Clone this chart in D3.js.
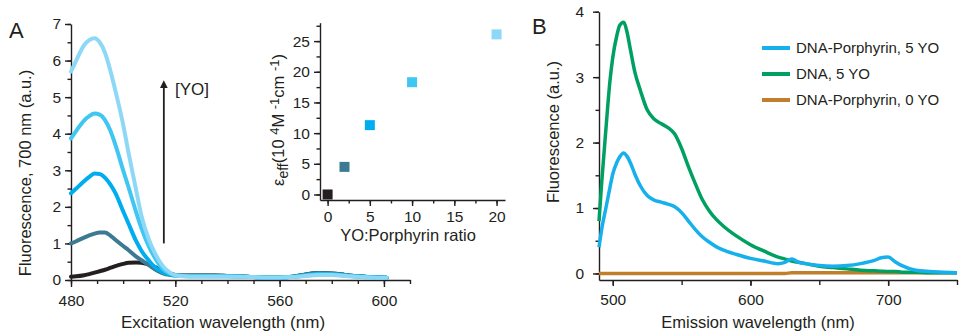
<!DOCTYPE html>
<html>
<head>
<meta charset="utf-8">
<script src="https://cdn.jsdelivr.net/npm/d3@7"></script>
<style>
  html, body { margin: 0; padding: 0; background: #fff; }
  svg { display: block; font-family: "Liberation Sans", Arial, Helvetica, sans-serif; }
  .axis path, .axis line { stroke: #231f20; stroke-width: 1.4; }
  .axis text { fill: #231f20; font-size: 15.5px; }
  .lbl { fill: #231f20; font-size: 16.5px; }
  .leg { fill: #231f20; font-size: 15px; }
</style>
</head>
<body>
<svg id="chart" width="960" height="332"></svg>
<script>
// ---- Panel A: excitation spectra at increasing YO loading ----
const exWavelength = [480, 482, 485, 487, 489, 491, 493, 495, 497, 500, 502, 505, 507, 510, 512, 515, 518, 520, 523, 526,
                      530, 535, 540, 545, 550, 555, 560, 565, 570, 575, 580, 585, 590, 595, 601];
const exYO0  = [0.09, 0.10, 0.13, 0.16, 0.20, 0.24, 0.28, 0.33, 0.38, 0.44, 0.47, 0.48, 0.47, 0.42, 0.36, 0.25, 0.17, 0.14, 0.12, 0.12,
                0.12, 0.12, 0.11, 0.10, 0.08, 0.07, 0.07, 0.09, 0.15, 0.19, 0.18, 0.14, 0.10, 0.08, 0.06];
const exYO2  = [1.00, 1.06, 1.16, 1.22, 1.27, 1.30, 1.30, 1.22, 1.10, 0.93, 0.82, 0.64, 0.54, 0.40, 0.30, 0.19, 0.14, 0.13, 0.12, 0.12,
                0.12, 0.12, 0.11, 0.10, 0.08, 0.07, 0.07, 0.09, 0.15, 0.19, 0.18, 0.14, 0.10, 0.08, 0.06];
const exYO5  = [2.37, 2.50, 2.70, 2.82, 2.91, 2.90, 2.80, 2.62, 2.38, 1.88, 1.55, 1.06, 0.80, 0.52, 0.36, 0.22, 0.14, 0.12, 0.11, 0.11,
                0.11, 0.11, 0.11, 0.10, 0.08, 0.07, 0.07, 0.09, 0.13, 0.17, 0.16, 0.13, 0.10, 0.08, 0.06];
const exYO10 = [3.87, 4.08, 4.36, 4.48, 4.55, 4.52, 4.38, 4.10, 3.70, 3.00, 2.55, 1.85, 1.42, 0.90, 0.63, 0.32, 0.17, 0.13, 0.11, 0.10,
                0.10, 0.10, 0.10, 0.09, 0.08, 0.07, 0.07, 0.08, 0.12, 0.15, 0.15, 0.12, 0.09, 0.07, 0.06];
const exYO20 = [5.70, 6.00, 6.42, 6.56, 6.61, 6.50, 6.22, 5.75, 5.18, 4.25, 3.50, 2.45, 1.76, 1.08, 0.76, 0.40, 0.20, 0.13, 0.10, 0.09,
                0.09, 0.09, 0.09, 0.09, 0.08, 0.07, 0.07, 0.08, 0.11, 0.14, 0.14, 0.11, 0.09, 0.07, 0.06];
const exSeriesColors = ["#231f20", "#3b7a92", "#00aeef", "#3fc6f1", "#8dd8f6"];

// Inset: effective extinction vs. YO:Porphyrin ratio
const ratio   = [0, 2, 5, 10, 20];
const epsEff  = [0, 4.5, 11.3, 18.3, 26.1];

// ---- Panel B: emission spectra ----
const emWavelength = [490, 492, 495, 498, 500, 503, 505, 508, 510, 513, 516, 520, 525, 530, 535, 540, 545, 550, 555, 560,
                      565, 570, 575, 580, 590, 600, 610, 620, 625, 630, 635, 640, 650, 660, 670, 680, 690, 695, 700, 705,
                      710, 720, 730, 740, 750];
const emDnaPorph5 = [0.40, 0.68, 1.00, 1.32, 1.52, 1.70, 1.78, 1.84, 1.80, 1.68, 1.52, 1.34, 1.19, 1.12, 1.09, 1.06, 1.02, 0.93, 0.80, 0.67,
                     0.56, 0.48, 0.41, 0.36, 0.29, 0.23, 0.19, 0.15, 0.17, 0.22, 0.17, 0.15, 0.12, 0.11, 0.12, 0.15, 0.20, 0.24, 0.25, 0.18,
                     0.12, 0.05, 0.03, 0.02, 0.01];
const emDna5      = [0.80, 1.40, 2.20, 2.95, 3.30, 3.64, 3.79, 3.84, 3.72, 3.40, 3.08, 2.80, 2.50, 2.36, 2.29, 2.23, 2.13, 1.91, 1.63, 1.37,
                     1.13, 0.96, 0.83, 0.73, 0.57, 0.44, 0.34, 0.25, 0.22, 0.19, 0.17, 0.15, 0.11, 0.09, 0.07, 0.05, 0.04, 0.035, 0.03, 0.03,
                     0.02, 0.02, 0.01, 0.01, 0.01];
const emDnaPorph0 = [0.00, 0.00, 0.00, 0.00, 0.00, 0.00, 0.00, 0.00, 0.00, 0.00, 0.00, 0.00, 0.00, 0.00, 0.00, 0.00, 0.00, 0.00, 0.00, 0.00,
                     0.00, 0.00, 0.00, 0.00, 0.00, 0.00, 0.00, 0.00, 0.00, 0.01, 0.01, 0.01, 0.01, 0.01, 0.01, 0.01, 0.01, 0.01, 0.01, 0.01,
                     0.01, 0.01, 0.01, 0.01, 0.01];
const emLabels = ["DNA-Porphyrin, 5 YO", "DNA, 5 YO", "DNA-Porphyrin, 0 YO"];
const emColors = ["#16b0ec", "#00a062", "#c17f2c"];

// Tick values
const exXTicks = [480, 520, 560, 600];
const exYTicks = [0, 1, 2, 3, 4, 5, 6, 7];
const insetXTicks = [0, 5, 10, 15, 20];
const insetYTicks = [0, 5, 10, 15, 20, 25];
const emXTicks = [500, 600, 700];
const emYTicks = [0, 1, 2, 3, 4];

const svg = d3.select("#chart");
const ink = "#231f20";
const intFmt = d3.format("d");

function styleAxis(g) {
  g.attr("class", "axis");
  g.select(".domain").attr("stroke", ink);
  return g;
}
function minorAxis(g) {
  g.attr("class", "axis");
  g.select(".domain").remove();
  g.selectAll("text").remove();
  return g;
}

// ================= Panel A =================
const xA = d3.scaleLinear().domain([480, 610]).range([71, 410]);
const yA = d3.scaleLinear().domain([0, 7]).range([280, 24]);

svg.append("g").attr("transform", `translate(0,${yA(0)})`)
  .call(d3.axisBottom(xA).tickValues(d3.range(480, 611, 10)).tickSize(4).tickFormat(""))
  .call(minorAxis);
svg.append("g").attr("transform", `translate(0,${yA(0)})`)
  .call(d3.axisBottom(xA).tickValues(exXTicks).tickSize(7).tickSizeOuter(0).tickPadding(8).tickFormat(intFmt))
  .call(styleAxis);
svg.append("g").attr("transform", `translate(${xA(480)},0)`)
  .call(d3.axisLeft(yA).tickValues(d3.range(0, 7.01, 0.5)).tickSize(3.5).tickFormat(""))
  .call(minorAxis);
svg.append("g").attr("transform", `translate(${xA(480)},0)`)
  .call(d3.axisLeft(yA).tickValues(exYTicks).tickSize(6).tickSizeOuter(0).tickPadding(4).tickFormat(intFmt))
  .call(styleAxis);

const lineA = d3.line()
  .x((d, i) => xA(exWavelength[i]))
  .y(d => yA(d))
  .curve(d3.curveMonotoneX);

[exYO0, exYO2, exYO5, exYO10, exYO20].forEach((s, k) => {
  svg.append("path").datum(s)
    .attr("d", lineA)
    .attr("fill", "none")
    .attr("stroke", exSeriesColors[k])
    .attr("stroke-width", 4)
    .attr("stroke-linejoin", "round")
    .attr("stroke-linecap", "round");
});

// [YO] direction arrow
const defs = svg.append("defs");
defs.append("marker").attr("id", "arrowhead")
  .attr("viewBox", "0 0 10 10").attr("refX", 5).attr("refY", 5)
  .attr("markerWidth", 4.5).attr("markerHeight", 5.5).attr("orient", "auto")
  .append("path").attr("d", "M0,0 L10,5 L0,10 Z").attr("fill", ink);
svg.append("line")
  .attr("x1", xA(515.6)).attr("x2", xA(515.6))
  .attr("y1", yA(1.0)).attr("y2", yA(5.35))
  .attr("stroke", ink).attr("stroke-width", 1.8)
  .attr("marker-end", "url(#arrowhead)");
svg.append("text").attr("class", "lbl")
  .attr("x", 175).attr("y", 95).style("font-size", "17px").text("[YO]");

svg.append("text").attr("class", "lbl")
  .attr("x", 223).attr("y", 328).attr("text-anchor", "middle")
  .style("font-size", "17px")
  .text("Excitation wavelength (nm)");
svg.append("text").attr("class", "lbl")
  .attr("transform", `translate(31,173) rotate(-90)`)
  .attr("text-anchor", "middle")
  .text("Fluorescence, 700 nm (a.u.)");
svg.append("text").attr("class", "lbl")
  .attr("x", 9).attr("y", 38).style("font-size", "22px").text("A");

// ---- Inset ----
const xI = d3.scaleLinear().domain([-0.9, 21]).range([320, 505]);
const yI = d3.scaleLinear().domain([-0.9, 28]).range([200, 22.7]);

svg.append("g").attr("transform", `translate(0,200)`)
  .call(d3.axisBottom(xI).tickValues(d3.range(0, 21, 2.5)).tickSize(3.5).tickFormat(""))
  .call(minorAxis);
svg.append("g").attr("transform", `translate(0,200)`)
  .call(d3.axisBottom(xI).tickValues(insetXTicks).tickSize(6).tickSizeOuter(0).tickPadding(5).tickFormat(intFmt))
  .call(styleAxis);
svg.append("g").attr("transform", `translate(320,0)`)
  .call(d3.axisLeft(yI).tickValues(d3.range(0, 27.6, 2.5)).tickSize(3.5).tickFormat(""))
  .call(minorAxis);
svg.append("g").attr("transform", `translate(320,0)`)
  .call(d3.axisLeft(yI).tickValues(insetYTicks).tickSize(6).tickSizeOuter(0).tickPadding(4).tickFormat(intFmt))
  .call(styleAxis);

const sq = 10;
svg.append("g").selectAll("rect")
  .data(ratio)
  .join("rect")
  .attr("x", (d) => xI(d) - sq / 2)
  .attr("y", (d, i) => yI(epsEff[i]) - sq / 2)
  .attr("width", sq).attr("height", sq)
  .attr("fill", (d, i) => exSeriesColors[i]);

svg.append("text").attr("class", "lbl")
  .attr("x", 408).attr("y", 241).attr("text-anchor", "middle")
  .text("YO:Porphyrin ratio");

const epsLabel = svg.append("text").attr("class", "lbl")
  .attr("transform", `translate(284,120) rotate(-90)`)
  .attr("text-anchor", "middle");
epsLabel.append("tspan").text("ε");
epsLabel.append("tspan").attr("baseline-shift", "-28%").style("font-size", "14px").text("eff");
epsLabel.append("tspan").text("(10 ");
epsLabel.append("tspan").attr("baseline-shift", "40%").style("font-size", "13px").text("4");
epsLabel.append("tspan").text("M ");
epsLabel.append("tspan").attr("baseline-shift", "40%").style("font-size", "13px").text("-1");
epsLabel.append("tspan").text("cm ");
epsLabel.append("tspan").attr("baseline-shift", "40%").style("font-size", "13px").text("-1");
epsLabel.append("tspan").text(")");

// ================= Panel B =================
const xB = d3.scaleLinear().domain([490, 750]).range([599, 957]);
const yB = d3.scaleLinear().domain([-0.1, 4]).range([280, 11.7]);

svg.append("g").attr("transform", `translate(0,280)`)
  .call(d3.axisBottom(xB).tickValues(d3.range(500, 751, 50)).tickSize(5).tickFormat(""))
  .call(minorAxis);
svg.append("g").attr("transform", `translate(0,280)`)
  .call(d3.axisBottom(xB).tickValues(emXTicks).tickSize(6).tickSizeOuter(0).tickPadding(8).tickFormat(intFmt))
  .call(styleAxis);
svg.append("g").attr("transform", `translate(599,0)`)
  .call(d3.axisLeft(yB).tickValues(d3.range(0, 4.01, 0.5)).tickSize(3.5).tickFormat(""))
  .call(minorAxis);
svg.append("g").attr("transform", `translate(599,0)`)
  .call(d3.axisLeft(yB).tickValues(emYTicks).tickSize(6).tickSizeOuter(0).tickPadding(9).tickFormat(intFmt))
  .call(styleAxis);

const lineB = d3.line()
  .x((d, i) => xB(emWavelength[i]))
  .y(d => yB(d))
  .curve(d3.curveMonotoneX);

const emSeries = [emDnaPorph5, emDna5, emDnaPorph0];
// draw order: porphyrin 0 YO, DNA, then DNA-porphyrin 5 YO on top
[2, 1, 0].forEach(k => {
  svg.append("path").datum(emSeries[k])
    .attr("d", lineB)
    .attr("fill", "none")
    .attr("stroke", emColors[k])
    .attr("stroke-width", 3.5)
    .attr("stroke-linejoin", "round");
});

const legend = svg.append("g").selectAll("g")
  .data(emLabels)
  .join("g")
  .attr("transform", (d, i) => `translate(762,${48 + i * 26})`);
legend.append("line")
  .attr("x1", 0).attr("x2", 28)
  .attr("stroke", (d, i) => emColors[i])
  .attr("stroke-width", 4);
legend.append("text").attr("class", "leg")
  .attr("x", 34).attr("dy", "0.36em")
  .text(d => d);

svg.append("text").attr("class", "lbl")
  .attr("x", 758).attr("y", 328).attr("text-anchor", "middle")
  .text("Emission wavelength (nm)");
svg.append("text").attr("class", "lbl")
  .attr("transform", `translate(559,132) rotate(-90)`)
  .attr("text-anchor", "middle")
  .text("Fluorescence (a.u.)");
svg.append("text").attr("class", "lbl")
  .attr("x", 532).attr("y", 34).style("font-size", "22px").text("B");
</script>
</body>
</html>
